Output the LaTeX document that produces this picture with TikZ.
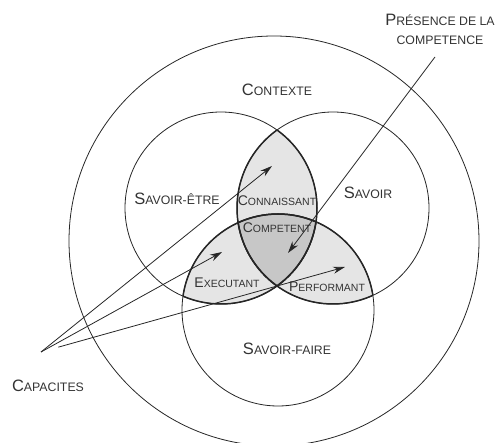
\documentclass[tikz,border=0pt]{standalone}
\usepackage{fontspec}
\setmainfont{Liberation Sans}
\usetikzlibrary{arrows.meta}
\tikzset{
    ring/.style = {
        draw=black!85, line width=0.8pt
    },
    lensline/.style = {
        draw=black!85, line width=1.5pt
    },
    label/.style = {
        text=black!80, inner sep=0pt
    },
    arrow/.style = {
        -{Stealth[length=12pt,width=7pt]}, line width=0.8pt, black!85
    }
}
% fake small caps: first letter big, the rest smaller
\newcommand{\bigsc}[2]{{\fontsize{16.5}{19}\selectfont #1\fontsize{12.3}{19}\selectfont #2}}
\newcommand{\smallsc}[2]{{\fontsize{14}{16}\selectfont #1\fontsize{10.5}{16}\selectfont #2}}

\begin{document}
\begin{tikzpicture}[x=1pt, y=-1pt]
\useasboundingbox (0,0) rectangle (496,443);

\coordinate (ctx) at (274,241);
\coordinate (se) at (221,208);
\coordinate (sv) at (333,208);
\coordinate (sf) at (278,310);

% shaded lenses
\foreach \a/\b in {se/sv, se/sf, sv/sf} {
    \begin{scope}
        \clip (\a) circle[radius=96];
        \fill[black!10] (\b) circle[radius=96];
    \end{scope}
}
\begin{scope}
    \clip (se) circle[radius=96];
    \clip (sv) circle[radius=96];
    \fill[black!22] (sf) circle[radius=96];
\end{scope}

% circles
\draw[ring] (ctx) circle[radius=205];
\draw[ring] (se) circle[radius=96];
\draw[ring] (sv) circle[radius=96];
\draw[ring] (sf) circle[radius=96];

% bold edges of the lenses
\foreach \inn/\out in {se/sv, sv/se, se/sf, sf/se, sv/sf, sf/sv} {
    \begin{scope}
        \clip (\inn) circle[radius=96];
        \draw[lensline] (\out) circle[radius=96];
    \end{scope}
}

% labels
\node (contexte) [label] at (277,90) {\bigsc{C}{ONTEXTE}};
\node (savoiretre) [label] at (177,199) {\bigsc{S}{AVOIR-ÊTRE}};
\node (savoir) [label] at (368,193) {\bigsc{S}{AVOIR}};
\node (savoirfaire) [label] at (287,349) {\bigsc{S}{AVOIR-FAIRE}};
\node (connaissant) [label] at (277,201) {\smallsc{C}{ONNAISSANT}};
\node (competent) [label] at (277,228) {\smallsc{C}{OMPETENT}};
\node (executant) [label] at (227,283) {\smallsc{E}{XECUTANT}};
\node (performant) [label] at (327,287) {\smallsc{P}{ERFORMANT}};
\node (capacites) [label] at (48,386) {\bigsc{C}{APACITES}};
\node (presence) [label, align=center, font=\fontsize{16.5}{19}\selectfont] at (440,29)
    {\bigsc{P}{RÉSENCE DE LA}\\\bigsc{}{COMPETENCE}};

% arrows
\coordinate (capa) at (41,352);
\coordinate (tipconn) at (272,166);
\coordinate (tipexec) at (222,252);
\coordinate (tipperf) at (345,267);
\coordinate (presfrom) at (435,57);
\coordinate (tipcomp) at (288,253);

\draw [arrow] (capa) -- (tipconn);
\draw [arrow] (capa) -- (tipexec);
\draw [arrow, shorten <=18pt] (capa) -- (tipperf);
\draw [arrow] (presfrom) -- (tipcomp);

\end{tikzpicture}
\end{document}
